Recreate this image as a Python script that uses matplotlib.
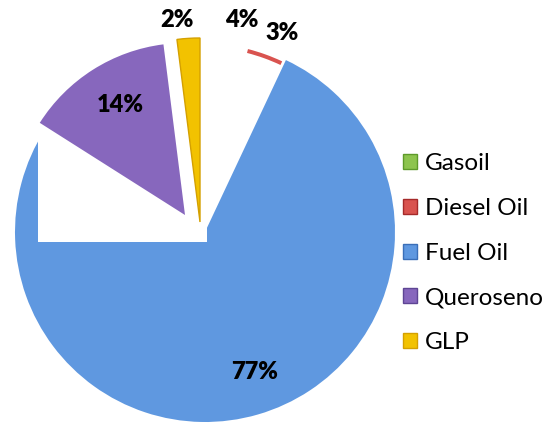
import matplotlib.pyplot as plt
from matplotlib.patches import Patch, Rectangle

plt.rcParams['font.family'] = ['Lato', 'DejaVu Sans']

fuels = ["Gasoil", "Diesel Oil", "Fuel Oil", "Queroseno", "GLP"]
shares = [4, 3, 77, 14, 2]
colors = ["#8dc44e", "#d9534f", "#5f98e0", "#8767bd", "#f2c200"]
edge_colors = ["#5e9a2a", "#a52a2a", "#3b6fb8", "#5e4594", "#d4a000"]

# label positions in picture pixels (x, y from top)
label_pos = [(242, 20), (282, 33), (255, 372), (120, 105), (177, 20)]

H = 428
fig = plt.figure(figsize=(5.5, 4.28), dpi=100)
ax = fig.add_axes([0, 0, 1, 1])

wedges, _ = ax.pie(shares, colors=colors, startangle=90, counterclock=False,
                   center=(205, H - 232), radius=190)

# the picture only shows parts of the small slices
wedges[0].set_visible(False)
wedges[1].set_center((200, H - 236))
wedges[1].set_radius(193)
wedges[1].set_width(4)
wedges[1].set_zorder(1)
wedges[2].set_zorder(1)

ax.add_patch(Rectangle((38, H - 242), 169, 212, facecolor="white",
                       edgecolor="none", zorder=2))

wedges[3].set_center((185, H - 215))
wedges[3].set_radius(172)
wedges[3].set_zorder(3)
clip = Rectangle((0, 0), 168, H, transform=ax.transData)
wedges[3].set_clip_path(clip)

wedges[4].set_center((200, H - 222))
wedges[4].set_radius(184)
wedges[4].set_zorder(3)
wedges[4].set_edgecolor(edge_colors[4])
wedges[4].set_linewidth(1)

for s, (x, y) in zip(shares, label_pos):
    ax.text(x, H - y, f"{s}%", ha="center", va="center", fontsize=17,
            fontweight="heavy", color="black", zorder=5)

handles = [Patch(facecolor=c, edgecolor=e) for c, e in zip(colors, edge_colors)]
ax.legend(handles, fuels, loc="upper left", bbox_to_anchor=(403 / 550, 1 - 153 / H),
          frameon=False, fontsize=17.5, handlelength=0.58, handleheight=0.58,
          handletextpad=0.33, labelspacing=0.98, borderpad=0, borderaxespad=0)

ax.set_xlim(0, 550)
ax.set_ylim(0, H)
ax.set_aspect("equal")
ax.axis("off")

fig.savefig("out.png", dpi=100)
